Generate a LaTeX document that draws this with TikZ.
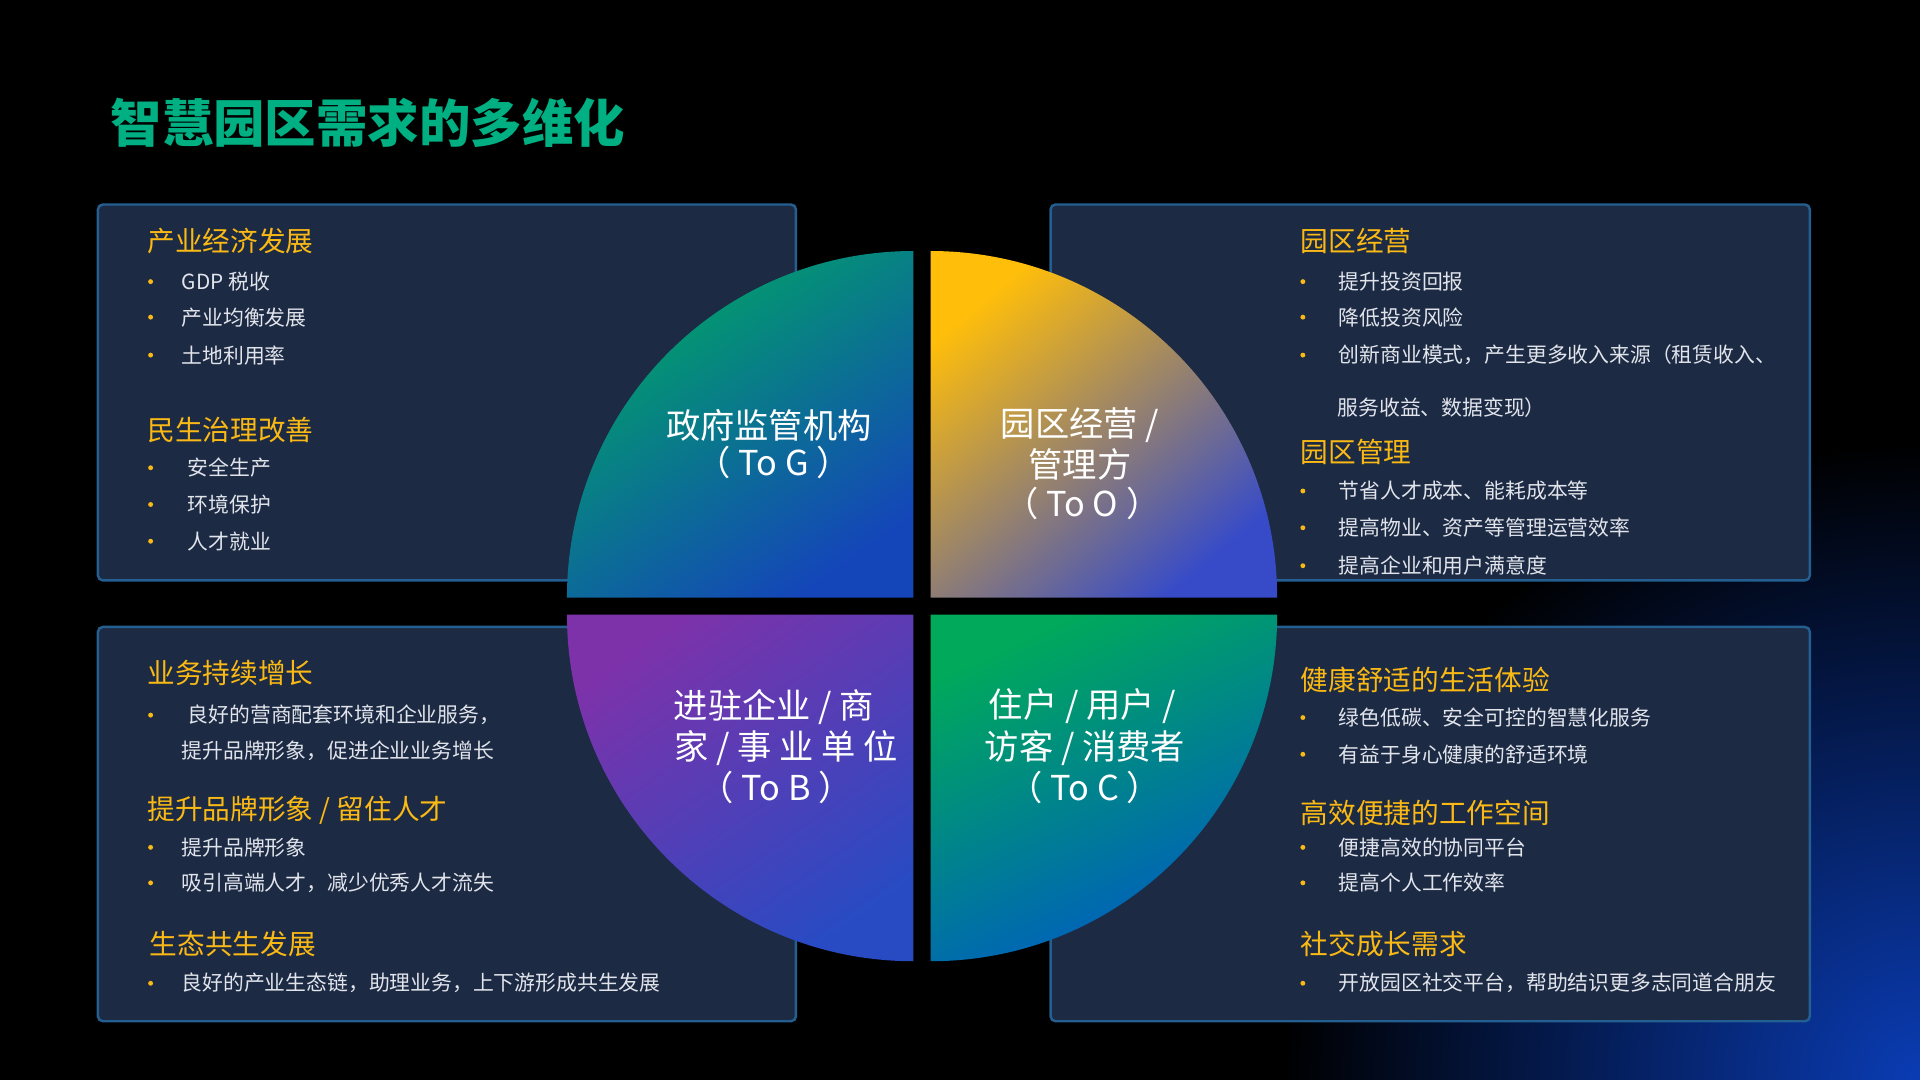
\documentclass[tikz,border=0pt]{standalone}
\usepackage{fontspec}
\setmainfont{Noto Sans CJK SC}
\begin{document}
\begin{tikzpicture}[x=0.5pt,y=-0.5pt,
  box/.style={fill=boxc,draw=boxb,line width=1pt,rounded corners=2pt},
  hd/.style={anchor=west,inner sep=0pt,text=headc,font=\fontsize{11.3}{12}\selectfont},
  tx/.style={anchor=west,inner sep=0pt,text=txtc,font=\fontsize{8.5}{10}\selectfont},
  bl/.style={circle,fill=headc,inner sep=0pt,minimum size=2pt},
  qt/.style={text=white,font=\fontsize{14}{15}\selectfont}]
\definecolor{boxc}{RGB}{28,42,68}
\definecolor{boxb}{RGB}{35,95,145}
\definecolor{headc}{RGB}{250,185,20}
\definecolor{txtc}{RGB}{225,228,235}
\useasboundingbox (0,0) rectangle (1568,882);
\fill[black] (0,0) rectangle (1568,882);
\begin{scope}
\clip (0,0) rectangle (1568,882);
\shade[inner color={rgb,255:red,10;green,60;blue,180}, outer color=black] (1568,882) circle[radius=260pt];
\end{scope}
\node[anchor=west,inner sep=0pt,font=\fontsize{21}{23}\selectfont\bfseries,text={rgb,255:red,0;green,175;blue,130}] (title) at (90,100) {智慧园区需求的多维化};
% boxes
\path[box] (80,167) rectangle (650,474);
\path[box] (858,167) rectangle (1478,474);
\path[box] (80,512) rectangle (650,834);
\path[box] (858,512) rectangle (1478,834);
% quadrants
\shade[top color={rgb,255:red,0;green,165;blue,100}, bottom color={rgb,255:red,20;green,70;blue,185}, shading angle=35]
  (746,488) -- (463,488) arc[start angle=180,end angle=90,radius=141.5pt] -- cycle;
\shade[top color={rgb,255:red,255;green,190;blue,10}, middle color={rgb,255:red,200;green,140;blue,140}, bottom color={rgb,255:red,55;green,75;blue,200}, shading angle=40]
  (760,488) -- (760,205) arc[start angle=90,end angle=0,radius=141.5pt] -- cycle;
\shade[top color={rgb,255:red,125;green,50;blue,170}, bottom color={rgb,255:red,40;green,75;blue,195}, shading angle=35]
  (746,502) -- (463,502) arc[start angle=180,end angle=270,radius=141.5pt] -- cycle;
\shade[top color={rgb,255:red,0;green,170;blue,90}, bottom color={rgb,255:red,0;green,90;blue,195}, shading angle=25]
  (760,502) -- (1043,502) arc[start angle=0,end angle=-90,radius=141.5pt] -- cycle;
\node[qt] (g1) at (628,347) {政府监管机构};
\node[qt] (g2) at (632,378) {（ To G ）};
\node[qt] (o1) at (882,347) {园区经营 /};
\node[qt] (o2) at (882,379) {管理方};
\node[qt] (o3) at (884,411) {（ To O ）};
\node[qt] (b1) at (632,577) {进驻企业 / 商};
\node[qt] (b2) at (642,611) {家 / 事 业 单 位};
\node[qt] (b3) at (634,643) {（ To B ）};
\node[qt] (c1) at (884,577) {住户 / 用户 /};
\node[qt] (c2) at (886,611) {访客 / 消费者};
\node[qt] (c3) at (886,643) {（ To C ）};
% TL
\node[hd] (h1) at (120,197) {产业经济发展};
\foreach \y/\t/\x [count=\i] in {230/GDP 税收/148,259/产业均衡发展/148,290/土地利用率/148,382/安全生产/153,412/环境保护/153,442/人才就业/153}
  {\node[bl] (tlb\i) at (123,\y) {}; \node[tx] (tlt\i) at (\x,\y) {\t};}
\node[hd] (h2) at (120,351) {民生治理改善};
% BL
\node[hd] (h3) at (120,550) {业务持续增长};
\node[hd] (h4) at (120,662) {提升品牌形象 / 留住人才};
\node[hd] (h5) at (122,771) {生态共生发展};
\foreach \y/\t/\x [count=\i] in {584/良好的营商配套环境和企业服务，/153,692/提升品牌形象/148,721/吸引高端人才，减少优秀人才流失/148,803/良好的产业生态链，助理业务，上下游形成共生发展/148}
  {\node[bl] (blb\i) at (123,\y) {}; \node[tx] (blt\i) at (\x,\y) {\t};}
\node[tx] (blx) at (148,613) {提升品牌形象，促进企业业务增长};
% TR
\node[hd] (h6) at (1062,197) {园区经营};
\node[hd] (h7) at (1062,369) {园区管理};
\foreach \y/\t [count=\i] in {230/提升投资回报,259/降低投资风险,290/创新商业模式，产生更多收入来源（租赁收入、,401/节省人才成本、能耗成本等,431/提高物业、资产等管理运营效率,462/提高企业和用户满意度}
  {\node[bl] (trb\i) at (1064,\y) {}; \node[tx] (trt\i) at (1093,\y) {\t};}
\node[tx] (trx) at (1092,333) {服务收益、数据变现）};
% BR
\node[hd] (h8) at (1062,555) {健康舒适的生活体验};
\node[hd] (h9) at (1062,664) {高效便捷的工作空间};
\node[hd] (h10) at (1062,771) {社交成长需求};
\foreach \y/\t [count=\i] in {586/绿色低碳、安全可控的智慧化服务,616/有益于身心健康的舒适环境,692/便捷高效的协同平台,721/提高个人工作效率,803/开放园区社交平台，帮助结识更多志同道合朋友}
  {\node[bl] (brb\i) at (1064,\y) {}; \node[tx] (brt\i) at (1093,\y) {\t};}
\end{tikzpicture}
\end{document}
